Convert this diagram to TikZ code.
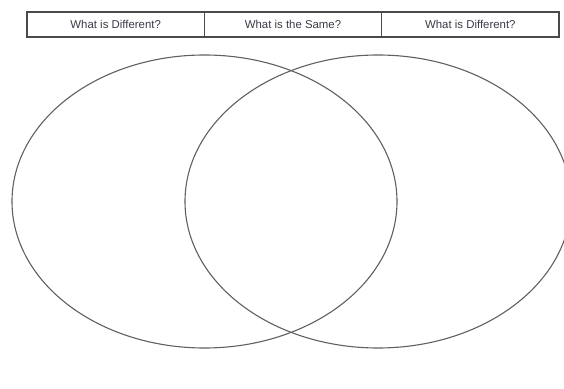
\documentclass[tikz,border=0pt]{standalone}
\usepackage{fontspec}
\setmainfont{Liberation Sans}
\definecolor{boxline}{HTML}{4A4A4A}
\definecolor{ringline}{HTML}{606060}
\definecolor{labeltext}{HTML}{3A3A46}
\begin{document}
\begin{tikzpicture}[x=1pt,y=1pt,
  headcell/.style={draw=boxline, line width=1.3pt, minimum width=177.33pt, minimum height=25pt,
    inner sep=0pt, outer sep=0pt, text=labeltext, font=\fontsize{11.4}{13}\selectfont},
  ring/.style={draw=ringline, line width=1.1pt}]
\useasboundingbox (0,0) rectangle (564,388);
\clip (0,0) rectangle (564,388);
\node[headcell] (c1) at (115.67,363.5) {What is Different?};
\node[headcell] (c2) at (293,363.5) {What is the Same?};
\node[headcell] (c3) at (470.33,363.5) {What is Different?};
\draw[ring] (204.5,186.5) ellipse [x radius=192.5, y radius=146.5];
\draw[ring] (378,186.5) ellipse [x radius=193, y radius=146.5];
\end{tikzpicture}
\end{document}
